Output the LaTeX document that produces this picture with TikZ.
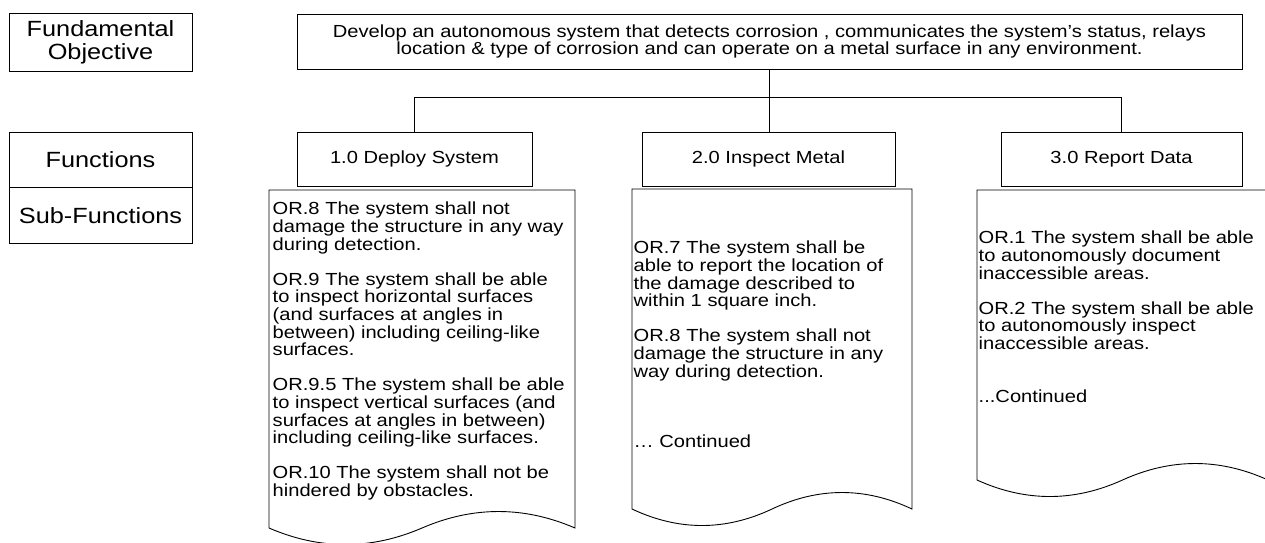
\documentclass[tikz,border=0pt]{standalone}
\usepackage{fontspec}
\newfontfamily\diagfont[FakeStretch=1.15]{Liberation Sans}
\usetikzlibrary{positioning}

% page outline with a wavy bottom: left, right, top, base
\newcommand{\docpage}[4]{%
    \draw[pageline] (#1,#4) -- (#1,#3) -- (#2,#3) -- (#2,#4)
        .. controls ({#2-(#2-#1)/6},{#4-22}) and ({#1+2*(#2-#1)/3},{#4-22}) .. ({(#1+#2)/2},#4)
        .. controls ({#1+(#2-#1)/3},{#4+22}) and ({#1+(#2-#1)/6},{#4+22}) .. (#1,#4) -- cycle;
}

\begin{document}
\begin{tikzpicture}[x=1pt, y=-1pt,
    legendbox/.style={draw, line width=0.9pt, minimum width=183pt, align=center,
        font=\diagfont\fontsize{22}{23}\selectfont},
    goalbox/.style={draw, line width=0.9pt, minimum width=945pt, minimum height=55pt,
        align=center, font=\diagfont\fontsize{17.5}{17.2}\selectfont},
    funcbox/.style={draw, line width=0.9pt, minimum height=54pt,
        font=\diagfont\fontsize{17.5}{17.5}\selectfont},
    reqtext/.style={anchor=north west, inner sep=0pt, align=left,
        font=\diagfont\fontsize{17.5}{17.6}\selectfont},
    pageline/.style={line width=0.9pt},
    link/.style={line width=0.9pt}]

    \useasboundingbox (0,0) rectangle (1265,542);

    % Legend on the left
    \begin{scope}
        \node[legendbox, minimum height=58pt] (fundobj) at (100.5,42) {Fundamental\\Objective};
        \node[legendbox, minimum height=55pt] (funcs) at (100.5,159.5) {Functions};
        \node[legendbox, minimum height=56pt, below=0pt of funcs] (subfuncs) {Sub-Functions};
    \end{scope}

    % Fundamental objective
    \node[goalbox] (goal) at (769.5,41.5) {Develop an autonomous system that detects corrosion , communicates the system’s status, relays\\location \& type of corrosion and can operate on a metal surface in any environment.};

    % Functions
    \node[funcbox, minimum width=235pt] (deploy) at (414.5,159) {1.0 Deploy System};
    \node[funcbox, minimum width=253pt] (inspect) at (768.5,159) {2.0 Inspect Metal};
    \node[funcbox, minimum width=241pt] (report) at (1121.5,159) {3.0 Report Data};

    \path (goal.south) ++(0,28) coordinate (split);
    \draw[link] (goal.south) -- (split);
    \draw[link] (deploy.north) |- (split) -| (report.north);
    \draw[link] (split) -- (split |- inspect.north);

    % Sub-functions: 1.0 Deploy System
    \begin{scope}
        \docpage{269}{575}{190}{528}
        \node[reqtext] (deployreq) at (272.5,202) {OR.8 The system shall not\\damage the structure in any way\\during detection.\\[17.6pt]
            OR.9 The system shall be able\\to inspect horizontal surfaces\\(and surfaces at angles in\\between) including ceiling-like\\surfaces.\\[17.6pt]
            OR.9.5 The system shall be able\\to inspect vertical surfaces (and\\surfaces at angles in between)\\including ceiling-like surfaces.\\[17.6pt]
            OR.10 The system shall not be\\hindered by obstacles.};
    \end{scope}

    % Sub-functions: 2.0 Inspect Metal
    \begin{scope}
        \docpage{632}{912}{189}{509}
        \node[reqtext] (inspectreq) at (633.5,241) {OR.7 The system shall be\\able to report the location of\\the damage described to\\within 1 square inch.\\[17.6pt]
            OR.8 The system shall not\\damage the structure in any\\way during detection.\\[52.8pt]
            … Continued};
    \end{scope}

    % Sub-functions: 3.0 Report Data
    \begin{scope}
        \docpage{977}{1268}{190}{480}
        \node[reqtext] (reportreq) at (978.5,231) {OR.1 The system shall be able\\to autonomously document\\inaccessible areas.\\[17.6pt]
            OR.2 The system shall be able\\to autonomously inspect\\inaccessible areas.\\[35.2pt]
            ...Continued};
    \end{scope}

\end{tikzpicture}
\end{document}
